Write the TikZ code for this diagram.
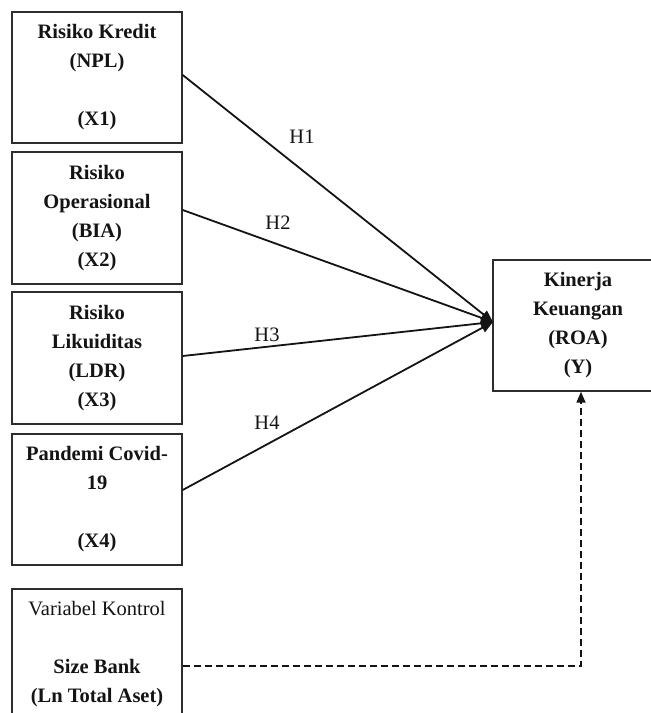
\documentclass[tikz,border=0pt]{standalone}
\usepackage{fontspec}
\setmainfont{Liberation Serif}
\usepackage{tikz}
\usetikzlibrary{positioning, arrows.meta}
\definecolor{inkdark}{RGB}{20,20,20}
\definecolor{framegray}{RGB}{45,45,45}
\tikzset{
  varbox/.style={
    draw=framegray, line width=1.4pt, fill=white, text=inkdark,
    font=\fontsize{20.5}{29}\selectfont\bfseries,
    minimum width=170pt, minimum height=131pt, align=center, inner sep=0pt
  },
  hyplabel/.style={font=\fontsize{20.5}{24}\selectfont, text=inkdark},
  arrow/.style={-{Triangle[length=12pt,width=10pt]}, line width=1.8pt, inkdark},
  dashline/.style={-{Triangle[length=11pt,width=9pt]}, line width=1.7pt, inkdark,
    dash pattern=on 7pt off 4pt}
}

\begin{document}
\begin{tikzpicture}[x=1pt, y=-1pt]
  \useasboundingbox (0,0) rectangle (651,713);
  \clip (0,0) rectangle (651,713);
  % variabel independen
  \node[varbox] (x1) at (97,77.5) {Risiko Kredit\\(NPL)\\[29pt](X1)};
  \node[varbox, minimum height=132pt] (x2) at (97,218) {Risiko\\Operasional\\(BIA)\\(X2)};
  \node[varbox, minimum height=132pt] (x3) at (97,358) {Risiko\\Likuiditas\\(LDR)\\(X3)};
  \node[varbox] (x4) at (97,499.5) {Pandemi Covid-\\19\\[29pt](X4)};
  \node[varbox] (ctrl) at (97,654.5) {\mdseries Variabel Kontrol\\[29pt]Size Bank\\(Ln Total Aset)};
  % variabel dependen
  \node[varbox] (y) at (578,325.5) {Kinerja\\Keuangan\\(ROA)\\(Y)};
  \coordinate (hub) at (493,322);
  % hipotesis
  \draw[arrow] (x1.east) ++(0,-2.5) -- (hub);
  \draw[arrow] (x2.east) ++(0,-8) -- (hub);
  \draw[arrow] (x3.east) ++(0,-2) -- (hub);
  \draw[arrow] (x4.east) ++(0,-9.5) -- (hub);
  \node[hyplabel] (h1) at (302,137) {H1};
  \node[hyplabel] (h2) at (278,223) {H2};
  \node[hyplabel] (h3) at (267,335) {H3};
  \node[hyplabel] (h4) at (267,423) {H4};
  % kontrol
  \draw[dashline] (ctrl.east) ++(0,11.5) -| ([xshift=3pt]y.south);
\end{tikzpicture}
\end{document}
